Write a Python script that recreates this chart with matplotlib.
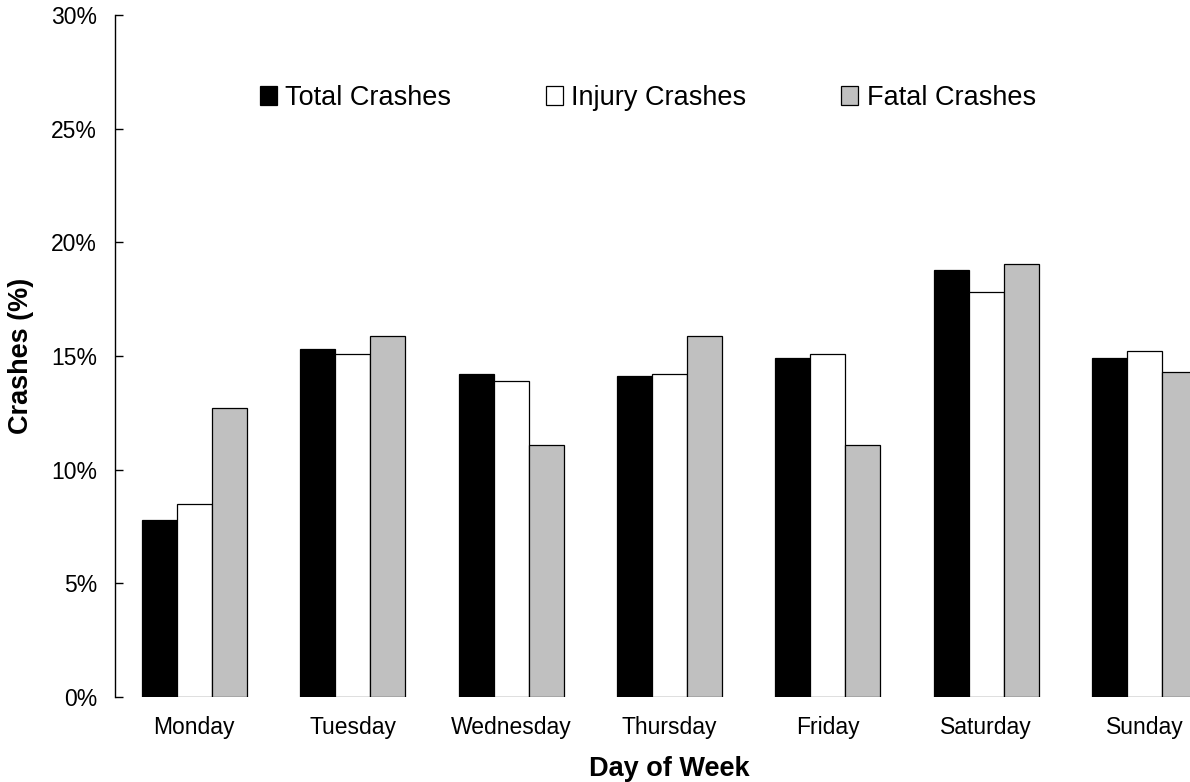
# Crashes by day of week: total, injury and fatal crash shares
import matplotlib.pyplot as plt
from matplotlib.patches import Patch
from matplotlib.ticker import FuncFormatter

plt.rcParams['font.family'] = ['Liberation Sans', 'DejaVu Sans']

# Data (percent of crashes)
days = ['Monday', 'Tuesday', 'Wednesday', 'Thursday', 'Friday', 'Saturday', 'Sunday']
total_crashes = [7.8, 15.3, 14.2, 14.1, 14.9, 18.8, 14.9]
injury_crashes = [8.5, 15.1, 13.9, 14.2, 15.1, 17.8, 15.2]
fatal_crashes = [12.7, 15.9, 11.1, 15.9, 11.1, 19.05, 14.3]

series = ['Total Crashes', 'Injury Crashes', 'Fatal Crashes']
colors = ['#000000', '#ffffff', '#c0c0c0']

fig = plt.figure(figsize=(11.9, 7.82), dpi=100)
# axes runs past the right edge of the figure, like the cropped original
ax = fig.add_axes([115 / 1190, 85 / 782, 1109 / 1190, 682 / 782])

width = 0.221
x = list(range(len(days)))
for i, (vals, col) in enumerate(zip([total_crashes, injury_crashes, fatal_crashes], colors)):
    ax.bar([p + (i - 1) * width for p in x], vals, width, color=col,
           edgecolor='black', linewidth=0.9, label=series[i])

ax.set_xlim(-0.5, len(days) - 0.5)
ax.set_ylim(0, 30)
ax.set_yticks(range(0, 31, 5))
ax.yaxis.set_major_formatter(FuncFormatter(lambda v, pos: '%d%%' % v))
ax.set_xticks(x)
ax.set_xticklabels(days)

for s in ['top', 'right', 'bottom']:
    ax.spines[s].set_visible(False)
ax.spines['left'].set_linewidth(1.0)
ax.tick_params(axis='y', direction='in', length=5.5, width=1.0, pad=13, labelsize=16.5)
ax.tick_params(axis='x', length=0, pad=14, labelsize=16.5)

ax.set_xlabel('Day of Week', fontsize=19.5, fontweight='bold')
ax.set_ylabel('Crashes (%)', fontsize=19.5, fontweight='bold')
ax.xaxis.set_label_coords(0.5, -0.087)
ax.yaxis.set_label_coords(-0.073, 0.5)

handles = [Patch(facecolor=c, edgecolor='black', linewidth=0.9) for c in colors]
fig.legend(handles, series, loc='center', bbox_to_anchor=(648 / 1190, 1 - 98 / 782),
           ncol=3, frameon=False, fontsize=19.5, handlelength=0.63, handleheight=0.65,
           handletextpad=0.3, columnspacing=3.5, borderpad=0, borderaxespad=0)

fig.savefig('out.png', dpi=100)
